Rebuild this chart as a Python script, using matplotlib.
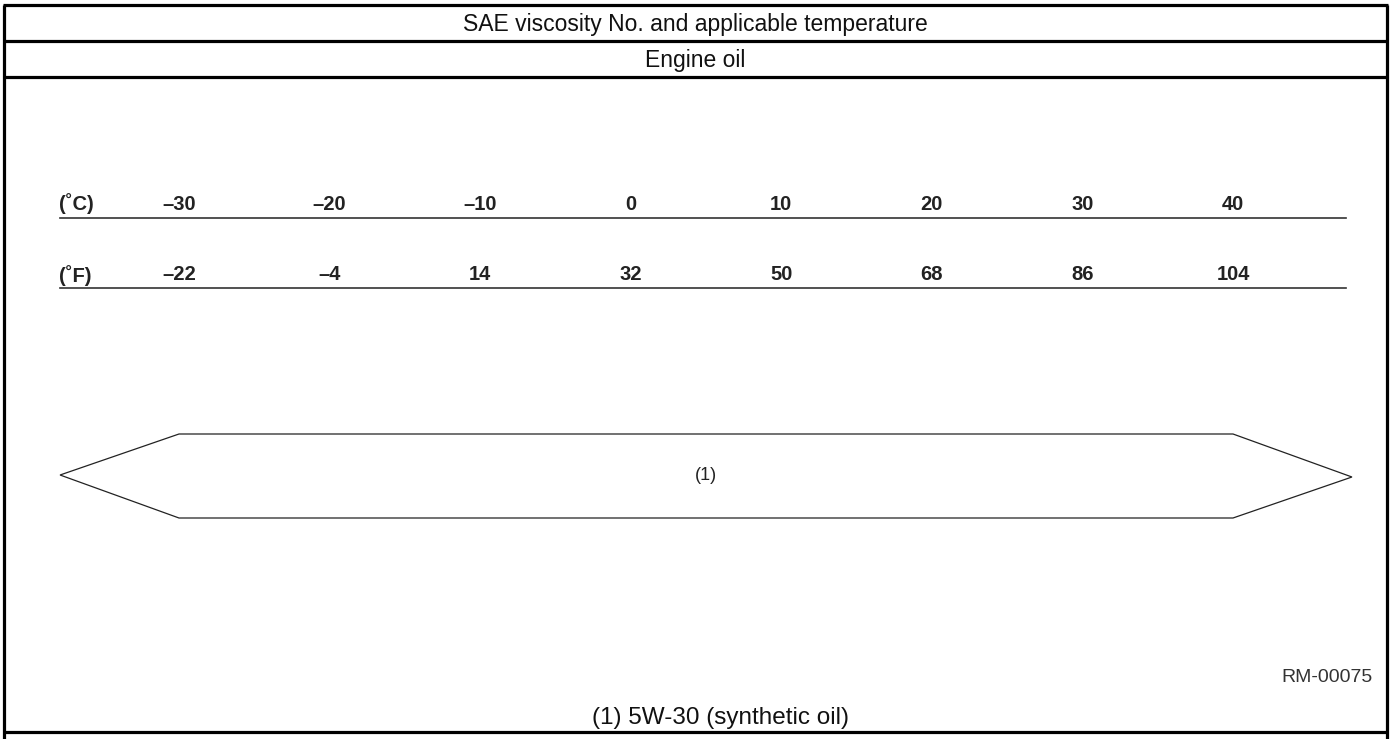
import matplotlib
matplotlib.use("Agg")
import matplotlib.pyplot as plt
from matplotlib.patches import Polygon

# ---- data ----
title_text = "SAE viscosity No. and applicable temperature"
subtitle_text = "Engine oil"
celsius_ticks = [-30, -20, -10, 0, 10, 20, 30, 40]
fahrenheit_ticks = [-22, -4, 14, 32, 50, 68, 86, 104]
range_low_c = -30
range_high_c = 40
range_label = "(1)"
caption_text = "(1) 5W-30 (synthetic oil)"
figure_code = "RM-00075"

W, H = 1390, 739
fig = plt.figure(figsize=(W / 100, H / 100), dpi=100)
plt.rcParams['font.family'] = ['Liberation Sans', 'DejaVu Sans']

# frame axes in pixel coords
fr = fig.add_axes([0, 0, 1, 1])
fr.set_xlim(0, W)
fr.set_ylim(H, 0)
fr.axis('off')

lw_thick = 2.3
x_left, x_right = 4, 1387
for y in (5, 41, 77, 732):
    fr.plot([x_left - 1, x_right + 1], [y, y], color='black', lw=lw_thick, solid_capstyle='butt')
for x in (x_left, x_right):
    fr.plot([x, x], [5, H + 2], color='black', lw=lw_thick, solid_capstyle='butt')

cell_fs = 16.5
fr.text(695, 24, title_text, ha='center', va='center', fontsize=cell_fs, color='#111111')
fr.text(695, 60, subtitle_text, ha='center', va='center', fontsize=cell_fs, color='#111111')
fr.text(721, 718, caption_text, ha='center', va='center', fontsize=17.5, color='#111111')
fr.text(1373, 678, figure_code, ha='right', va='center', fontsize=14, color='#333333')

# temperature axes: x in degrees Celsius, y in pixel rows
px_per_deg = (1233 - 179) / (range_high_c - range_low_c)
xmin = range_low_c - 179 / px_per_deg
xmax = range_high_c + (W - 1233) / px_per_deg
ax = fig.add_axes([0, 0, 1, 1])
ax.set_xlim(xmin, xmax)
ax.set_ylim(H, 0)
ax.axis('off')
ax.patch.set_alpha(0)

line_lo = range_low_c - 7.9
line_hi = range_high_c + 7.5

def fmt(v):
    return ("\u2013" + str(abs(v))) if v < 0 else str(v)

lab_fs = 14.5
# Celsius row
ax.text(line_lo - 0.1, 204, "(\u02daC)", ha='left', va='center', fontsize=lab_fs, fontweight='bold', color='#222222')
for c in celsius_ticks:
    ax.text(c, 204, fmt(c), ha='center', va='center', fontsize=lab_fs, fontweight='bold', color='#222222')
ax.plot([line_lo, line_hi], [217.5, 217.5], color='#333333', lw=1.2)

# Fahrenheit row
ax.text(line_lo - 0.1, 276, "(\u02daF)", ha='left', va='center', fontsize=lab_fs, fontweight='bold', color='#222222')
for c, f in zip(celsius_ticks, fahrenheit_ticks):
    ax.text(c, 275, fmt(f), ha='center', va='center', fontsize=lab_fs, fontweight='bold', color='#222222')
ax.plot([line_lo, line_hi], [287.5, 287.5], color='#333333', lw=1.2)

# applicable range shape
tip = 7.9
poly = Polygon([(range_low_c - tip, 475), (range_low_c, 434), (range_high_c, 434),
                (range_high_c + tip, 477), (range_high_c, 518), (range_low_c, 518)],
               closed=True, fill=False, edgecolor='#222222', lw=0.9)
ax.add_patch(poly)
ax.text((range_low_c + range_high_c) / 2, 476, range_label, ha='center', va='center',
        fontsize=13, color='#222222')

fig.savefig("out.png", dpi=100)
